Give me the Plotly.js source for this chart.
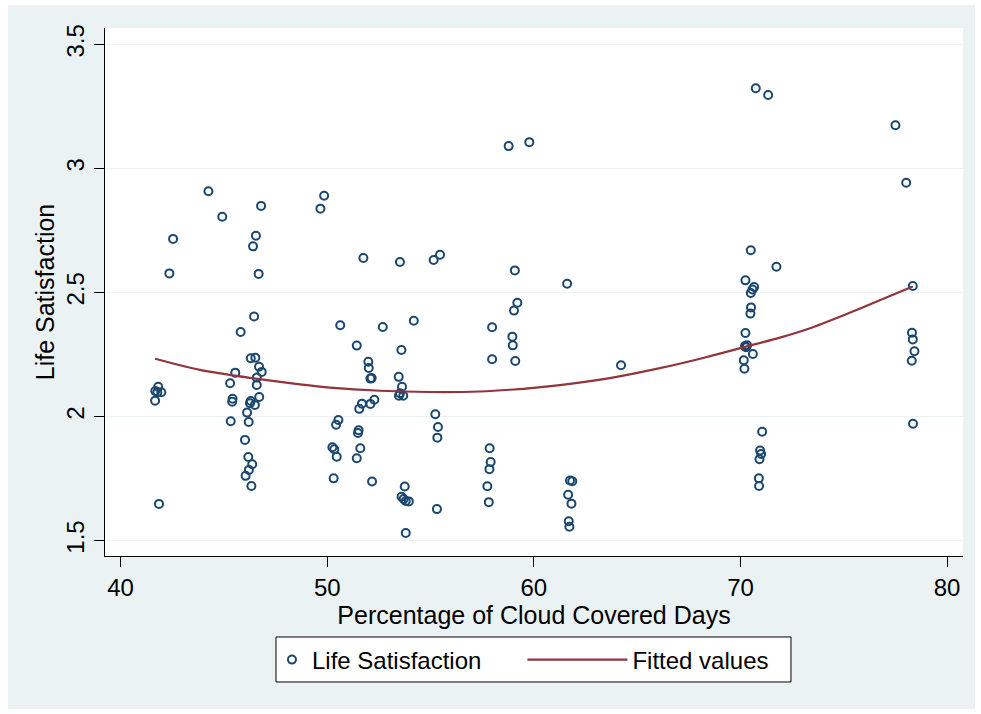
<!DOCTYPE html>
<html>
<head>
<meta charset="utf-8">
<script src="https://cdn.plot.ly/plotly-3.0.1.min.js"></script>
<style>
  html, body { margin: 0; padding: 0; background: #ffffff; }
  #chart { position: absolute; left: 8px; top: 5px; width: 967px; height: 704px; }
</style>
</head>
<body>
<div id="chart"></div>
<script>
// Percentage of cloud covered days (x) and life satisfaction (y)
const cloudDays = [
  44.25, 46.8, 44.92, 42.54, 46.55, 46.41, 42.36, 46.68, 46.46, 45.81,
  46.3, 46.52, 46.7, 46.83, 45.55, 46.59, 45.3, 46.59, 41.82, 41.68,
  41.78, 41.97, 41.67, 45.42, 45.40, 46.71, 46.3, 46.26, 46.5, 46.12,
  45.33, 46.2, 46.02, 46.18, 46.37, 46.21, 46.05, 46.33, 41.86,
  49.85, 49.67, 51.75, 53.52, 55.15, 55.46, 50.63, 52.69, 54.19, 51.43,
  53.59, 51.99, 52.01, 52.09, 52.15, 53.46, 53.62, 53.52, 53.47, 53.68,
  52.28, 52.09, 51.68, 51.55, 55.23, 50.54, 50.43, 55.36, 55.33, 51.52,
  51.49, 50.25, 50.34, 50.46, 51.6, 51.43, 50.31, 52.17, 53.75, 53.6,
  53.7, 53.8, 53.95, 55.31, 53.8,
  58.78, 59.78, 59.08, 61.61, 59.2, 59.04, 57.98, 58.96, 58.98, 57.98,
  59.1, 64.22, 57.86, 57.91, 57.85, 57.75, 57.82, 61.75, 61.86, 61.66,
  61.82, 61.69, 61.72,
  70.74, 71.34, 77.5, 78.02, 70.5, 71.74, 70.24, 70.66, 70.58, 70.5,
  70.51, 70.48, 70.24, 70.22, 70.32, 70.27, 70.6, 70.16, 70.19, 78.34,
  78.3, 78.34, 78.42, 78.29, 78.35, 71.05, 70.95, 71.0, 70.92, 70.89,
  70.9
];
const lifeSatisfaction = [
  2.908, 2.849, 2.805, 2.716, 2.729, 2.686, 2.577, 2.575, 2.403, 2.341,
  2.235, 2.237, 2.201, 2.180, 2.177, 2.157, 2.134, 2.127, 2.12, 2.103,
  2.098, 2.098, 2.064, 2.072, 2.060, 2.079, 2.063, 2.054, 2.047, 2.016,
  1.981, 1.978, 1.906, 1.837, 1.808, 1.785, 1.761, 1.72, 1.648,
  2.89, 2.838, 2.639, 2.623, 2.631, 2.652, 2.368, 2.361, 2.386, 2.286,
  2.268, 2.221, 2.196, 2.153, 2.155, 2.16, 2.12, 2.094, 2.084, 2.084,
  2.068, 2.051, 2.052, 2.031, 2.009, 1.986, 1.967, 1.958, 1.915, 1.945,
  1.934, 1.876, 1.868, 1.838, 1.872, 1.832, 1.751, 1.738, 1.718, 1.677,
  1.668, 1.66, 1.658, 1.627, 1.531,
  3.09, 3.106, 2.589, 2.535, 2.459, 2.427, 2.36, 2.322, 2.287, 2.231,
  2.224, 2.207, 1.872, 1.817, 1.788, 1.719, 1.655, 1.742, 1.739, 1.685,
  1.649, 1.578, 1.556,
  3.323, 3.296, 3.174, 2.942, 2.67, 2.604, 2.549, 2.522, 2.512, 2.498,
  2.44, 2.415, 2.337, 2.284, 2.287, 2.279, 2.252, 2.227, 2.193, 2.526,
  2.338, 2.311, 2.263, 2.225, 1.971, 1.939, 1.863, 1.849, 1.828, 1.751,
  1.72
];
// Fitted values (quadratic fit)
const fitX = [41.67, 43.84, 46.26, 48.68, 50.13, 52.55, 54.97, 57.39, 58.84, 61.26,
              63.68, 66.1, 68.0, 70.27, 71.91, 73.51, 75.11, 76.71, 78.34];
const fitY = [2.233, 2.188, 2.156, 2.130, 2.117, 2.104, 2.099, 2.101, 2.108, 2.127,
              2.155, 2.195, 2.232, 2.282, 2.318, 2.360, 2.412, 2.468, 2.524];

const xTicks = [40, 50, 60, 70, 80];
const yTicks = [1.5, 2, 2.5, 3, 3.5];
const yTickText = ['1.5', '2', '2.5', '3', '3.5'];

const FONT = 'Liberation Sans, Arial, Helvetica, sans-serif';
const BG = '#EAF2F3';

const traces = [
  {
    type: 'scatter', mode: 'markers', name: 'Life Satisfaction',
    x: cloudDays, y: lifeSatisfaction,
    marker: { symbol: 'circle-open', size: 8, color: '#1A476F', line: { width: 2, color: '#1A476F' } },
    legend: 'legend', cliponaxis: false
  },
  {
    type: 'scatter', mode: 'lines', name: 'Fitted values',
    x: fitX, y: fitY,
    line: { color: '#90353B', width: 2.2, shape: 'spline', smoothing: 0.6 },
    legend: 'legend2'
  }
];

const layout = {
  width: 967, height: 704,
  paper_bgcolor: BG, plot_bgcolor: '#ffffff',
  margin: { l: 97, r: 12, t: 23, b: 153 },
  font: { family: FONT, size: 24, color: '#000000' },
  showlegend: true,
  xaxis: {
    range: [39.245, 80.77], tickvals: xTicks, ticktext: xTicks.map(String),
    showgrid: false, zeroline: false,
    showline: true, linecolor: '#000000', linewidth: 1,
    ticks: 'outside', ticklen: 10, tickcolor: '#000000', tickwidth: 1,
    tickfont: { family: FONT, size: 24, color: '#000000' },
    title: { text: 'Percentage of Cloud Covered Days', font: { family: FONT, size: 25, color: '#000000' }, standoff: 0 }
  },
  yaxis: {
    range: [1.438, 3.566], tickvals: yTicks, ticktext: yTickText, tickangle: -90,
    showgrid: true, gridcolor: BG, gridwidth: 1.5, zeroline: false,
    showline: true, linecolor: '#000000', linewidth: 1,
    ticks: 'outside', ticklen: 10, tickcolor: '#000000', tickwidth: 1,
    tickfont: { family: FONT, size: 24, color: '#000000' },
    title: { text: 'Life Satisfaction', font: { family: FONT, size: 25, color: '#000000' }, standoff: 0 }
  },
  legend: {
    orientation: 'h', x: 0.1946, xanchor: 'left', y: -0.197, yanchor: 'middle',
    bgcolor: 'rgba(0,0,0,0)', borderwidth: 0, itemwidth: 30,
    font: { family: FONT, size: 24, color: '#000000' }
  },
  legend2: {
    orientation: 'h', x: 0.4865, xanchor: 'left', y: -0.197, yanchor: 'middle',
    bgcolor: 'rgba(0,0,0,0)', borderwidth: 0, itemwidth: 100,
    font: { family: FONT, size: 24, color: '#000000' }
  },
  shapes: [
    { type: 'rect', xref: 'paper', yref: 'paper', x0: 0.1993, x1: 0.7995, y0: -0.2386, y1: -0.1534,
      fillcolor: '#ffffff', line: { color: '#000000', width: 1 }, layer: 'below' }
  ]
};

Plotly.newPlot('chart', traces, layout, { displayModeBar: false, staticPlot: true });
</script>
</body>
</html>
